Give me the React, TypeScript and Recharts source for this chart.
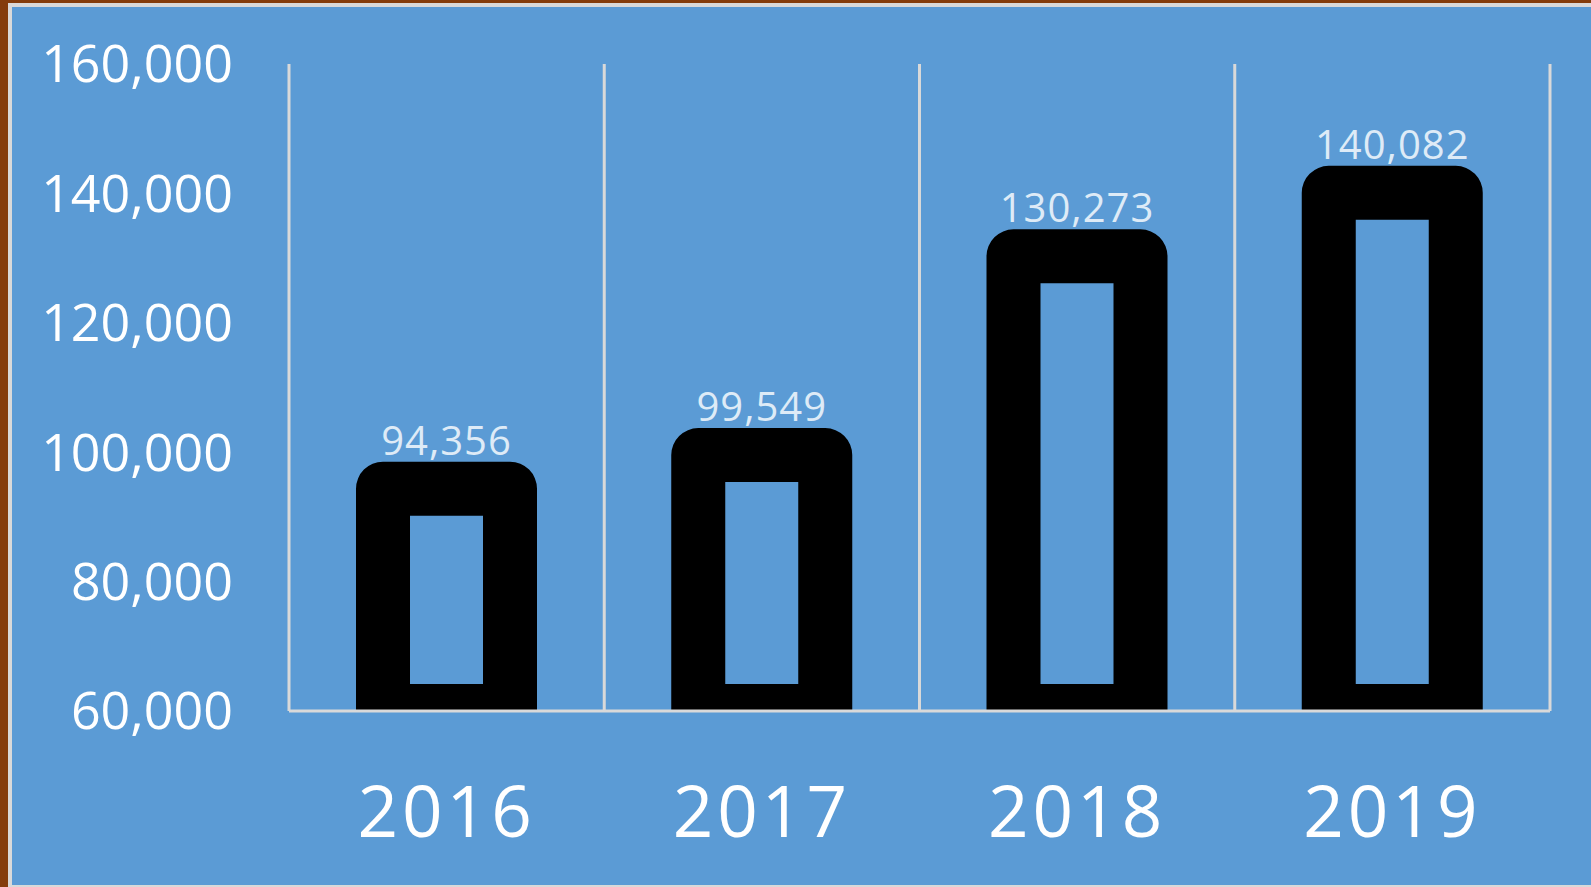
import React from 'react';
import { BarChart, Bar, XAxis, YAxis, CartesianGrid, LabelList } from 'recharts';

const years = ['2016', '2017', '2018', '2019'];
const visitors = [94356, 99549, 130273, 140082];
const yTicks = [60000, 80000, 100000, 120000, 140000, 160000];

const data = years.map((year, i) => ({ year, value: visitors[i] }));

const BLUE = '#5B9BD5';
const GRID = '#D9D9D9';
const STROKE = 54;

const fmt = (v: number) => v.toLocaleString('en-US');

// hollow bar: thick black outline with rounded top corners, bottom half cut at the axis
const HollowBar = (props: any) => {
  const { x, y, width, height } = props;
  if (width == null || height == null) return null;
  const h = STROKE / 2;
  const base = y + height;
  const x0 = x - h;
  const x1 = x + width + h;
  const top = y - h;
  const r = h;
  const ix0 = x + h;
  const ix1 = x + width - h;
  const iy0 = y + h;
  const iy1 = base - h;
  const d =
    `M${x0},${base} L${x0},${top + r} A${r},${r} 0 0 1 ${x0 + r},${top} ` +
    `L${x1 - r},${top} A${r},${r} 0 0 1 ${x1},${top + r} L${x1},${base} Z ` +
    `M${ix0},${iy0} L${ix1},${iy0} L${ix1},${iy1} L${ix0},${iy1} Z`;
  return <path d={d} fill="#000" fillRule="evenodd" />;
};

export default function App() {
  return (
    <div
      style={{
        position: 'absolute',
        left: 0,
        top: 0,
        width: 1591,
        height: 887,
        background: '#843C0C',
        overflow: 'hidden',
      }}
    >
      <div
        style={{
          position: 'absolute',
          left: 8,
          top: 3,
          width: 1579,
          height: 878,
          border: `4px solid ${GRID}`,
          background: BLUE,
          fontFamily: '"Open Sans", sans-serif',
        }}
      >
        <BarChart
          width={1579}
          height={878}
          data={data}
          margin={{ top: 57, right: 41, left: 0, bottom: 0 }}
          barSize={127}
        >
          <CartesianGrid
            horizontal={false}
            stroke={GRID}
            strokeWidth={3}
            verticalCoordinatesGenerator={({ offset }: any) =>
              [0, 1, 2, 3, 4].map((i) => offset.left + (i * offset.width) / years.length)
            }
          />
          <XAxis
            dataKey="year"
            height={174}
            axisLine={{ stroke: GRID, strokeWidth: 3 }}
            tickLine={false}
            tickSize={0}
            tickMargin={76}
            tick={{ fill: '#FFFFFF', fontSize: 71, letterSpacing: 4 }}
          />
          <YAxis
            width={277}
            domain={[60000, 160000]}
            ticks={yTicks}
            axisLine={false}
            tickLine={false}
            tickSize={0}
            tickMargin={56}
            tickFormatter={fmt}
            tick={{ fill: '#FFFFFF', fontSize: 52 }}
          />
          <Bar dataKey="value" shape={<HollowBar />} isAnimationActive={false}>
            <LabelList
              dataKey="value"
              position="top"
              offset={34}
              formatter={(v: any) => fmt(Number(v))}
              fill="#DEEBF7"
              fontSize={40}
              letterSpacing={1}
            />
          </Bar>
        </BarChart>
      </div>
    </div>
  );
}
